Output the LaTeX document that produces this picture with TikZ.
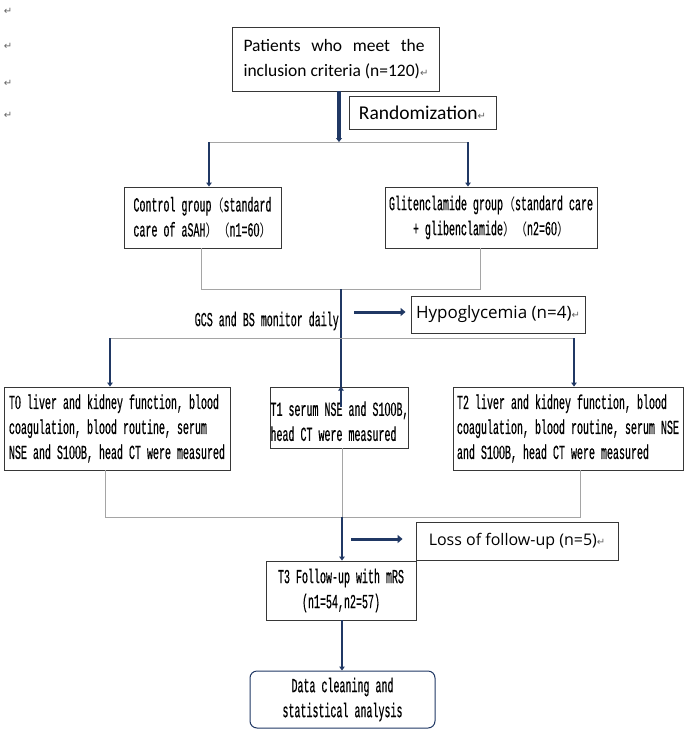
\documentclass[tikz,border=0pt]{standalone}
\usepackage{fontspec}
\usetikzlibrary{arrows.meta}
\newfontfamily\simf[FakeStretch=0.5,FakeBold=0.4]{Liberation Mono}
\newfontfamily\simdig[FakeStretch=0.6,FakeBold=0.4]{Liberation Serif}
\newfontfamily\yahei{Carlito}
\newfontfamily\osans{Open Sans}
\newfontfamily\dejavu{DejaVu Sans}
\newfontfamily\cjk[FakeStretch=0.75]{Noto Sans CJK SC}
\definecolor{navy}{RGB}{32,56,100}
\definecolor{boxc}{RGB}{55,55,55}
\definecolor{linegray}{RGB}{165,165,165}
\definecolor{retgray}{RGB}{100,100,100}
\newcommand\ret{{\dejavu\fontsize{10}{10}\selectfont\textcolor{retgray}{↵}}}
\newcommand\lpa{{\cjk\fontsize{16}{16}\selectfont （}}
\newcommand\rpa{{\cjk\fontsize{16}{16}\selectfont ）}}
\newcommand\z{{\simdig 0}}
\begin{document}
\begin{tikzpicture}[x=1pt,y=-1pt,
  box/.style={draw=boxc, line width=0.9pt, inner sep=0pt},
  simtxt/.style={font=\simf\fontsize{20}{25}\selectfont},
  grayline/.style={draw=linegray, line width=0.8pt},
  bluearrow/.style={draw=navy, line width=2pt, -{Triangle[length=4pt,width=5.5pt]}},
  thickarrow/.style={draw=navy, line width=4pt, -{Triangle[length=4pt,width=6pt]}},
  sidearrow/.style={draw=navy, line width=3pt, -{Triangle[length=5pt,width=8pt]}},
  retmark/.style={inner sep=0pt, font=\dejavu\fontsize{10}{10}\selectfont, text=retgray}
]
\useasboundingbox[fill=white] (0,0) rectangle (685,732);

% margin paragraph marks
\node[retmark] (m1) at (8,11) {↵};
\node[retmark] (m2) at (8,46) {↵};
\node[retmark] (m3) at (8,83) {↵};
\node[retmark] (m4) at (8,115) {↵};

% boxes
\node[box, font=\yahei\fontsize{17.5}{25}\selectfont, minimum width=207pt,
      minimum height=64pt, align=left] (top) at (336,59)
  {\makebox[181pt][l]{Patients\hfill who\hfill meet\hfill the}\\inclusion criteria (n=120)\ret};
\node[box, font=\yahei\fontsize{19.5}{22}\selectfont, minimum width=147pt, minimum height=33pt]
  (rand) at (422.5,112.5) {Randomization\ret};

\node[box, simtxt, minimum width=157pt, minimum height=61pt, align=left]
  (ctrl) at (202.5,217.5) {Control group\lpa standard\\care of aSAH\rpa\lpa n1=6\z\rpa};
\node[box, simtxt, minimum width=212pt, minimum height=61pt, align=center]
  (glit) at (491,217.5) {Glitenclamide group\lpa standard care\\+ glibenclamide\rpa\lpa n2=6\z\rpa};

\node[box, font=\osans\fontsize{17}{20}\selectfont, minimum width=174pt, minimum height=37pt]
  (hypo) at (498,314.5) {Hypoglycemia (n=4)\ret};
\node[simtxt, anchor=east, inner sep=0pt] (gcs) at (339,321) {GCS and BS monitor daily};

\node[box, simtxt, minimum width=226pt, minimum height=83pt, align=left]
  (t0) at (117,428.5) {T\z{} liver and kidney function, blood\\coagulation, blood routine, serum\\NSE and S1\z\z B, head CT were measured};
\node[box, simtxt, minimum width=137pt, minimum height=61pt, align=left]
  (t1) at (339.5,417.5) {\rule{0pt}{22pt}T1 serum NSE and S1\z\z B,\\head CT were measured};
\node[box, simtxt, minimum width=230pt, minimum height=83pt, align=left]
  (t2) at (568,428.5) {T2 liver and kidney function, blood\\coagulation, blood routine, serum NSE\\and S1\z\z B, head CT were measured};

\node[box, font=\osans\fontsize{16}{20}\selectfont, minimum width=202pt, minimum height=38pt]
  (loss) at (517,541) {Loss of follow-up (n=5)\ret};
\node[box, simtxt, minimum width=150pt, minimum height=59pt, align=center]
  (t3) at (341,590.5) {T3 Follow-up with mRS\\(n1=54,n2=57)};
\node[box, draw=navy, line width=1pt, rounded corners=7pt, simtxt, minimum width=185pt,
      minimum height=57pt, align=center]
  (data) at (342.5,699.5) {Data cleaning and\\statistical analysis};

% connectors
\coordinate (s1) at (339,142);
\coordinate (bl) at (209,142);
\coordinate (br) at (468,142);
\draw[thickarrow] (s1 |- top.south) -- (s1);
\draw[grayline] (bl) -- (br);
\draw[bluearrow] (bl) -- (bl |- ctrl.north);
\draw[bluearrow] (br) -- (br |- glit.north);

\coordinate (ml) at (201,289);
\coordinate (mr) at (480,289);
\coordinate (mc) at (341,289);
\draw[grayline] (ml |- ctrl.south) -- (ml) -- (mr) -- (mr |- glit.south);
\draw[navy, line width=2.5pt] (mc) -- (mc |- t0.north);
\draw[bluearrow] ([yshift=-20pt]mc |- t1.north) -- (mc |- t1.north);

\coordinate (h1) at (354,312);
\draw[sidearrow] (h1) -- ([xshift=-5pt]h1 -| hypo.west);

\coordinate (sl) at (110,338);
\coordinate (sr) at (574,338);
\draw[grayline] (sl) -- (sr);
\draw[bluearrow] (sl) -- (sl |- t0.north);
\draw[bluearrow] (sr) -- (sr |- t2.north);

\coordinate (bl2) at (105,517);
\coordinate (br2) at (580,517);
\coordinate (bc) at (342,517);
\draw[grayline] (bl2 |- t0.south) -- (bl2) -- (br2) -- (br2 |- t2.south);
\draw[grayline] (bc |- t1.south) -- (bc);
\draw[bluearrow] (bc) -- (bc |- t3.north);

\coordinate (l1) at (351,539);
\draw[sidearrow] (l1) -- ([xshift=-13pt]l1 -| loss.west);

\draw[bluearrow] (t3.south -| bc) -- (bc |- data.north);
\end{tikzpicture}
\end{document}
